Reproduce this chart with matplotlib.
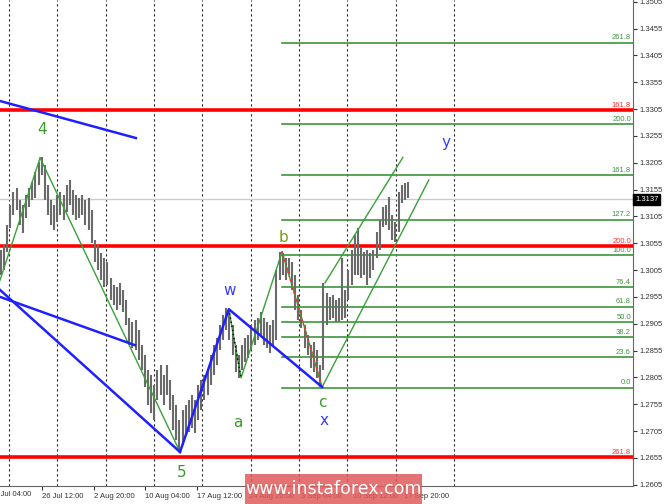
import matplotlib
matplotlib.use('Agg')
import matplotlib.pyplot as plt
import matplotlib.transforms as mtransforms
from matplotlib.patches import Rectangle
import numpy as np

# H4 bars (high / low)
highs = [1.3042, 1.3052, 1.3089, 1.3126, 1.3150, 1.3158, 1.3135, 1.3126, 1.3145, 1.3158,
         1.3169, 1.3188, 1.3206, 1.3215, 1.3201, 1.3163, 1.3135, 1.3126, 1.3145, 1.3150,
         1.3145, 1.3163, 1.3173, 1.3154, 1.3145, 1.3139, 1.3145, 1.3135, 1.3139, 1.3117,
         1.3061, 1.3052, 1.3037, 1.3027, 1.3020, 1.2990, 1.2977, 1.2973, 1.2981, 1.2968,
         1.2949, 1.2916, 1.2908, 1.2912, 1.2893, 1.2865, 1.2847, 1.2819, 1.2809, 1.2791,
         1.2819, 1.2828, 1.2809, 1.2828, 1.2800, 1.2772, 1.2754, 1.2725, 1.2744, 1.2754,
         1.2763, 1.2772, 1.2763, 1.2791, 1.2800, 1.2809, 1.2819, 1.2847, 1.2865, 1.2878,
         1.2902, 1.2921, 1.2934, 1.2927, 1.2902, 1.2865, 1.2847, 1.2865, 1.2878, 1.2884,
         1.2902, 1.2912, 1.2916, 1.2927, 1.2916, 1.2908, 1.2902, 1.2912, 1.3005, 1.3038,
         1.3037, 1.3027, 1.3027, 1.3020, 1.2996, 1.2958, 1.2930, 1.2902, 1.2884, 1.2865,
         1.2871, 1.2856, 1.2828, 1.2981, 1.2962, 1.2955, 1.2958, 1.2949, 1.2953, 1.3027,
         1.2968, 1.3005, 1.3042, 1.3070, 1.3083, 1.3046, 1.3038, 1.3042, 1.3037, 1.3042,
         1.3076, 1.3098, 1.3122, 1.3126, 1.3141, 1.3107, 1.3094, 1.3150, 1.3163, 1.3167,
         1.3169]
lows = [1.2996, 1.3005, 1.3038, 1.3083, 1.3107, 1.3117, 1.3089, 1.3074, 1.3102, 1.3122,
        1.3135, 1.3139, 1.3163, 1.3182, 1.3135, 1.3107, 1.3089, 1.3079, 1.3094, 1.3107,
        1.3098, 1.3113, 1.3126, 1.3107, 1.3098, 1.3102, 1.3107, 1.3089, 1.3079, 1.3055,
        1.3020, 1.3005, 1.2986, 1.2973, 1.2977, 1.2949, 1.2940, 1.2930, 1.2940, 1.2927,
        1.2902, 1.2865, 1.2860, 1.2856, 1.2837, 1.2819, 1.2787, 1.2754, 1.2739, 1.2725,
        1.2763, 1.2772, 1.2754, 1.2772, 1.2744, 1.2707, 1.2688, 1.2666, 1.2679, 1.2698,
        1.2703, 1.2711, 1.2701, 1.2725, 1.2744, 1.2763, 1.2772, 1.2791, 1.2809, 1.2828,
        1.2856, 1.2875, 1.2893, 1.2875, 1.2847, 1.2815, 1.2804, 1.2819, 1.2834, 1.2841,
        1.2856, 1.2865, 1.2875, 1.2884, 1.2865, 1.2860, 1.2850, 1.2865, 1.2875, 1.2986,
        1.2996, 1.2986, 1.2996, 1.2968, 1.2930, 1.2912, 1.2897, 1.2860, 1.2847, 1.2822,
        1.2815, 1.2804, 1.2787, 1.2819, 1.2902, 1.2912, 1.2916, 1.2908, 1.2908, 1.2912,
        1.2916, 1.2949, 1.2977, 1.2996, 1.2996, 1.2990, 1.2996, 1.2977, 1.2990, 1.3005,
        1.3027, 1.3042, 1.3085, 1.3089, 1.3079, 1.3061, 1.3057, 1.3076, 1.3130, 1.3135,
        1.3139]
last_price = 1.3137

# time labels (bar index) and weekly separators
time_pos = [-3.55, 13.0, 29.6, 46.1, 62.7, 79.2, 95.7, 112.3, 128.9]
time_labels = ["19 Jul 04:00", "26 Jul 12:00", "2 Aug 20:00", "10 Aug 04:00", "17 Aug 12:00",
               "24 Aug 20:00", "3 Sep 04:00", "10 Sep 12:00", "17 Sep 20:00"]
separators = [2.6, 17.9, 33.5, 48.9, 64.2, 79.9, 95.2, 110.5, 126.2, 144.7]

# fibonacci levels
green_fib = ["261.8", "200.0", "161.8", "127.2", "100.0", "76.4", "61.8", "50.0", "38.2", "23.6", "0.0"]
green_fib_price = [1.34285, 1.3277, 1.3182, 1.3099, 1.3033, 1.2973, 1.2937, 1.2908, 1.2880, 1.2843, 1.2786]
green_fib_start = 89.8
red_fib = ["161.8", "200.0", "261.8"]
red_fib_price = [1.3303, 1.3049, 1.2656]

# wave pivots
wave_names = ["4", "5", "w", "a", "b", "c"]
wave_x = [12.5, 57.2, 72.8, 76.7, 89.8, 102.6]
wave_p = [1.3214, 1.2666, 1.2932, 1.2804, 1.3039, 1.2787]

small = 'Liberation Sans'

fig = plt.figure(figsize=(6.65, 5.04), dpi=100)
ax = fig.add_axes([0, 18 / 504, 633 / 665, 486 / 504])
ax.set_xlim(-0.3, 201.9)
ax.set_ylim(1.26026, 1.35082)

for s in separators:
    ax.axvline(s, color='#222222', lw=0.8, ls=(0, (2, 2.5)), zorder=1)

ax.axhline(last_price, color='#cccccc', lw=1, zorder=1)

for lab, p in zip(red_fib, red_fib_price):
    ax.axhline(p, color='#ff0000', lw=2.6, zorder=3)
    ax.annotate(lab, (1, p), xycoords=('axes fraction', 'data'), xytext=(-1.5, 1),
                textcoords='offset points', ha='right', va='bottom', fontsize=5.5,
                family=small, color='#ff3030')

for lab, p in zip(green_fib, green_fib_price):
    ax.plot([green_fib_start, 201.9], [p, p], color='#3c963c', lw=1.2, zorder=2)
    ax.annotate(lab, (1, p), xycoords=('axes fraction', 'data'), xytext=(-1.5, 1),
                textcoords='offset points', ha='right', va='bottom', fontsize=5.5,
                family=small, color='#3c963c')

idx = np.arange(len(highs))
ax.vlines(idx, lows, highs, color='#6a6a6a', lw=1.5, zorder=4)

# green wave lines
g = '#3aa03a'
ax.plot([-0.3, wave_x[0]], [1.2986, wave_p[0]], color=g, lw=1, zorder=5)
ax.plot([wave_x[0], wave_x[1]], [wave_p[0], wave_p[1]], color=g, lw=1, zorder=5)
ax.plot(wave_x[2:5], wave_p[2:5], color=g, lw=1, zorder=5)
ax.plot([wave_x[2], wave_x[3]], [wave_p[2], wave_p[3]], color='k', lw=1, ls=(0, (1, 2)), zorder=5)
ax.plot([wave_x[4], wave_x[5]], [wave_p[4], wave_p[5]], color=g, lw=1, zorder=5)
ax.plot([wave_x[4], wave_x[5]], [wave_p[4], wave_p[5]], color='#ff2020', lw=1, ls=(0, (1, 2)), zorder=5)
# channel
ax.plot([wave_x[5], 136.7], [wave_p[5], 1.3173], color=g, lw=1, zorder=5)
ax.plot([103.5, 128.4], [1.2981, 1.3215], color=g, lw=1, zorder=5)

# blue lines
b = '#2020ff'
ax.plot([-0.3, 43.1], [1.3320, 1.3251], color=b, lw=1.8, zorder=6)
ax.plot([-0.3, 42.8], [1.2955, 1.2865], color=b, lw=1.8, zorder=6)
ax.plot([-0.3, wave_x[1]], [1.2968, wave_p[1]], color=b, lw=1.8, zorder=6)
ax.plot([wave_x[1], wave_x[2], wave_x[5]], [wave_p[1], wave_p[2], wave_p[5]], color=b, lw=1.8, zorder=6)

# wave labels
labels = [("4", 13.1, 1.3266, '#3a9a2a'), ("5", 57.8, 1.2627, '#3a9a2a'),
          ("w", 73.2, 1.2966, '#3a3aff'), ("a", 75.7, 1.2720, '#3a9a2a'),
          ("b", 90.1, 1.3065, '#7a9a1a'), ("c", 102.6, 1.2759, '#3a9a2a'),
          ("x", 103.2, 1.2724, '#3a3aff'), ("y", 142.2, 1.3242, '#3a3aff')]
for t, x, y, c in labels:
    ax.text(x, y, t, color=c, fontsize=11, ha='center', va='center', zorder=7)

# axes
for side in ['left', 'top']:
    ax.spines[side].set_visible(False)
ax.spines['right'].set_color('#666666')
ax.spines['bottom'].set_color('#666666')
ax.yaxis.tick_right()
yt = [1.2605 + 0.005 * k for k in range(19)]
ax.set_yticks(yt)
ax.set_yticklabels(["%.4f" % v for v in yt], family=small)
ax.tick_params(axis='y', labelsize=5.5, length=3, colors='#333333', pad=2)
ax.set_xticks(time_pos[1:])
ax.set_xticklabels(time_labels[1:], ha='left', family=small)
ax.tick_params(axis='x', labelsize=5.5, length=3, colors='#333333', pad=2)
ax.text(time_pos[0], -0.01, time_labels[0], transform=mtransforms.blended_transform_factory(ax.transData, ax.transAxes),
        fontsize=5.5, family=small, color='#333333', ha='left', va='top', clip_on=False)

# last price tag
ax.annotate("%.4f" % last_price, (1, last_price), xycoords=('axes fraction', 'data'), xytext=(1.5, 0),
            textcoords='offset points', ha='left', va='center', fontsize=5.5, family=small,
            color='white', bbox=dict(boxstyle='square,pad=0.25', fc='black', ec='black'))

# watermark
fig.patches.append(Rectangle((245 / 665, 0), 177 / 665, 30 / 504, transform=fig.transFigure,
                             fc='#e05a5a', ec='none', alpha=0.85, zorder=10))
fig.text(334 / 665, 15 / 504, "www.instaforex.com", color='white', fontsize=12.5,
         ha='center', va='center', zorder=11)

plt.savefig('out.png', dpi=100)
plt.close('all')
